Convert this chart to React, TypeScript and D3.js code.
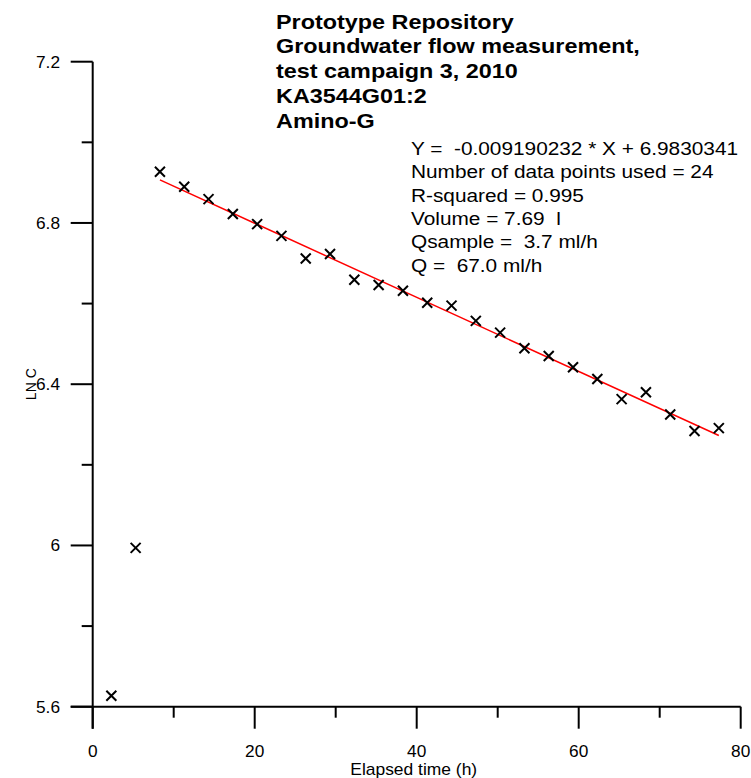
import React from "react";
import * as d3 from "d3";

const elapsedTime = [2.3, 5.3, 8.3, 11.3, 14.3, 17.3, 20.3, 23.3, 26.3, 29.3, 32.3, 35.3, 38.3, 41.3, 44.3, 47.3, 50.3, 53.3, 56.3, 59.3, 62.3, 65.3, 68.3, 71.3, 74.3, 77.3];
const lnC = [5.627, 5.994, 6.927, 6.890, 6.859, 6.822, 6.797, 6.768, 6.712, 6.723, 6.659, 6.646, 6.632, 6.602, 6.595, 6.557, 6.528, 6.489, 6.470, 6.442, 6.413, 6.363, 6.380, 6.325, 6.284, 6.291];
const fitSlope = -0.009190232;
const fitIntercept = 6.9830341;
const fitRange = [8.3, 77.3];
const xMajorTicks = [0, 20, 40, 60, 80];
const xMinorTicks = [10, 30, 50, 70];
const yMajorTicks = [5.6, 6.0, 6.4, 6.8, 7.2];
const yMinorTicks = [5.8, 6.2, 6.6, 7.0];
const yTickLabels = ["5.6", "6", "6.4", "6.8", "7.2"];
const titleLines = ["Prototype Repository", "Groundwater flow measurement,", "test campaign 3, 2010", "KA3544G01:2", "Amino-G"];
const statLines = ["Y =  -0.009190232 * X + 6.9830341", "Number of data points used = 24", "R-squared = 0.995", "Volume = 7.69  l", "Qsample =  3.7 ml/h", "Q =  67.0 ml/h"];

const FONT = "'Liberation Sans', Arial, Helvetica, sans-serif";

function SText(props: { x: number; y: number; sx: number; size: number; anchor?: string; weight?: string; children: React.ReactNode }) {
  const { x, y, sx, size, anchor, weight, children } = props;
  return (
    <text
      transform={`translate(${x},${y}) scale(${sx},1)`}
      fontSize={size}
      fontWeight={weight || "normal"}
      textAnchor={anchor || "start"}
      fill="#000"
      style={{ whiteSpace: "pre" }}
    >
      {children}
    </text>
  );
}

export default function App() {
  const x = d3.scaleLinear().domain([0, 80]).range([92.7, 740.7]);
  const y = d3.scaleLinear().domain([5.6, 7.2]).range([706.7, 61.7]);
  const x0 = x(0);
  const yBase = y(5.6);
  const fitLine = d3.line<number>().x((d) => x(d)).y((d) => y(fitSlope * d + fitIntercept));
  const m = 5;
  return (
    <svg width={751} height={778} style={{ position: "absolute", left: 0, top: 0, background: "#fff" }} fontFamily={FONT}>
      <rect x={0} y={0} width={751} height={778} fill="#fff" />
      <line x1={x(0) - 22} x2={x(80)} y1={yBase} y2={yBase} stroke="#000" strokeWidth={2} />
      <line x1={x0} x2={x0} y1={y(7.2)} y2={yBase + 22} stroke="#000" strokeWidth={2} />
      {xMajorTicks.map((t) => (
        <line key={"xM" + t} x1={x(t)} x2={x(t)} y1={yBase} y2={yBase + 22} stroke="#000" strokeWidth={2} />
      ))}
      {xMinorTicks.map((t) => (
        <line key={"xm" + t} x1={x(t)} x2={x(t)} y1={yBase} y2={yBase + 11} stroke="#000" strokeWidth={2} />
      ))}
      {yMajorTicks.map((t) => (
        <line key={"yM" + t} x1={x0 - 22} x2={x0} y1={y(t)} y2={y(t)} stroke="#000" strokeWidth={2} />
      ))}
      {yMinorTicks.map((t) => (
        <line key={"ym" + t} x1={x0 - 11} x2={x0} y1={y(t)} y2={y(t)} stroke="#000" strokeWidth={2} />
      ))}
      {xMajorTicks.map((t) => (
        <SText key={"xl" + t} x={x(t)} y={757} sx={1.08} size={16} anchor="middle">{String(t)}</SText>
      ))}
      {yMajorTicks.map((t, i) => (
        <SText key={"yl" + t} x={60} y={y(t) + 6} sx={1.08} size={16} anchor="end">{yTickLabels[i]}</SText>
      ))}
      <SText x={(x(0) + x(80)) / 2 - 3} y={775} sx={1.09} size={16} anchor="middle">Elapsed time (h)</SText>
      <text transform={`translate(36,${(y(5.6) + y(7.2)) / 2}) rotate(-90)`} fontSize={14} textAnchor="middle" fill="#000">LN C</text>
      <path d={fitLine(fitRange) || ""} stroke="#ff0000" strokeWidth={1.5} fill="none" />
      {elapsedTime.map((t, i) => {
        const cx = x(t);
        const cy = y(lnC[i]);
        return (
          <path key={"p" + i} d={`M${cx - m},${cy - m}L${cx + m},${cy + m}M${cx - m},${cy + m}L${cx + m},${cy - m}`} stroke="#000" strokeWidth={2} fill="none" />
        );
      })}
      {titleLines.map((s, i) => (
        <SText key={"t" + i} x={276} y={28.5 + i * 24.9} sx={1.17} size={20} weight="bold">{s}</SText>
      ))}
      {statLines.map((s, i) => (
        <SText key={"s" + i} x={411} y={155 + i * 23.3} sx={1.19} size={17.5}>{s}</SText>
      ))}
    </svg>
  );
}
